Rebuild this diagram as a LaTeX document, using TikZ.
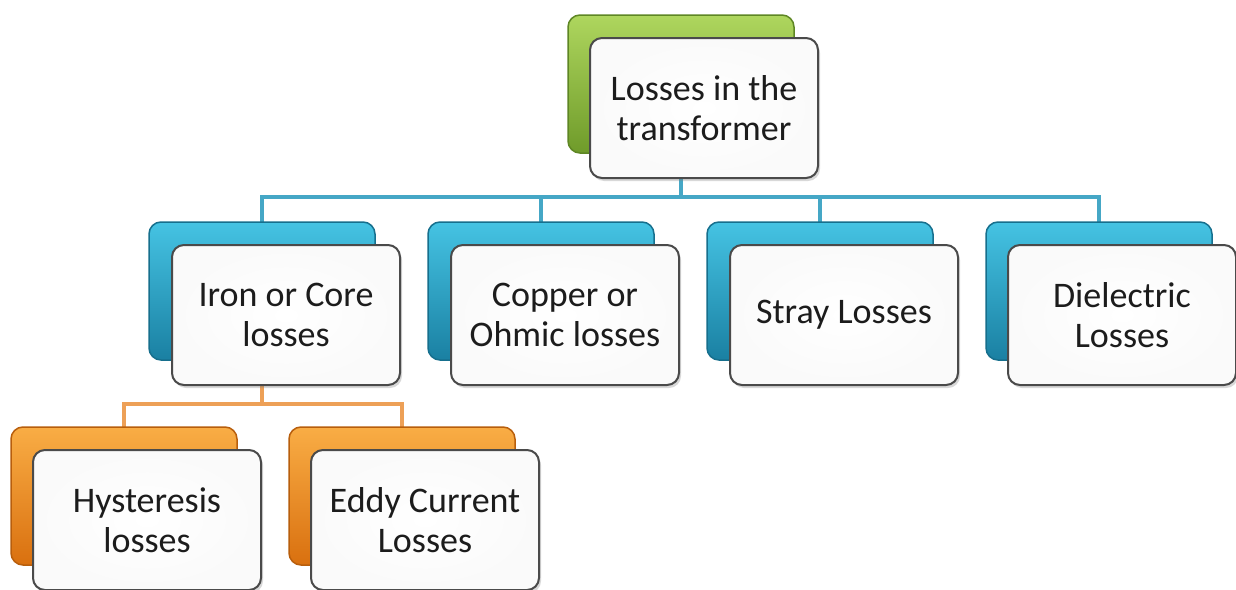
\documentclass[tikz,border=0pt]{standalone}
\usepackage{fontspec}
\setmainfont{Carlito}
\usetikzlibrary{shadows}
\pgfdeclarelayer{background}
\pgfsetlayers{background,main}
\definecolor{gTop}{HTML}{AED65E}
\definecolor{gBot}{HTML}{6F9B2A}
\definecolor{gEdge}{HTML}{5E8624}
\definecolor{bTop}{HTML}{45C3E3}
\definecolor{bBot}{HTML}{1A80A2}
\definecolor{bEdge}{HTML}{166F8D}
\definecolor{oTop}{HTML}{F9AD45}
\definecolor{oBot}{HTML}{D9700F}
\definecolor{oEdge}{HTML}{B85E0C}
\definecolor{bLine}{HTML}{45A7C6}
\definecolor{oLine}{HTML}{EDA057}
\definecolor{fEdge}{HTML}{4A4A4A}
\definecolor{txt}{HTML}{1C1C1C}
\tikzset{
  backbox/.style={rounded corners=12pt, minimum width=226pt, minimum height=138pt, inner sep=0pt, line width=1.5pt},
  greenbox/.style={backbox, draw=gEdge, top color=gTop, bottom color=gBot},
  bluebox/.style={backbox, draw=bEdge, top color=bTop, bottom color=bBot},
  orangebox/.style={backbox, draw=oEdge, top color=oTop, bottom color=oBot},
  frontbox/.style={rounded corners=12pt, minimum width=228pt, minimum height=140pt, inner sep=0pt,
    draw=fEdge, line width=2pt, inner color=white, outer color=black!2,
    drop shadow={opacity=0.3, shadow xshift=2pt, shadow yshift=-3pt},
    align=center, text=txt, font=\fontsize{36}{40}\selectfont},
  bline/.style={draw=bLine, line width=4.5pt},
  oline/.style={draw=oLine, line width=4pt}
}
\begin{document}
\begin{tikzpicture}[x=1pt,y=-1pt]
\useasboundingbox (0,0) rectangle (1236,589);
% top
\node[greenbox] (topb) at (681,84) {};
\node[frontbox] (topf) at (704,108) {Losses in the\\transformer};
% blue row
\node[bluebox] (b1) at (262,291) {};
\node[frontbox] (f1) at (286,315) {Iron or Core\\losses};
\node[bluebox] (b2) at (541,291) {};
\node[frontbox] (f2) at (565,315) {Copper or\\Ohmic losses};
\node[bluebox] (b3) at (820,291) {};
\node[frontbox] (f3) at (844,315) {Stray Losses};
\node[bluebox] (b4) at (1099,291) {};
\node[frontbox] (f4) at (1122,315) {Dielectric\\Losses};
% orange row
\node[orangebox] (o1) at (124,496) {};
\node[frontbox] (g1) at (147,520) {Hysteresis\\losses};
\node[orangebox] (o2) at (402,496) {};
\node[frontbox] (g2) at (425,520) {Eddy Current\\Losses};
\coordinate (bus) at (0,197);
\coordinate (obus) at (0,404);
\begin{pgfonlayer}{background}
\fill[white] (0,0) rectangle (1236,589);
\draw[bline] (topb.center) -- (topb.center |- bus) -| (b1.center);
\draw[bline] (topb.center) -- (topb.center |- bus) -| (b2.center);
\draw[bline] (topb.center) -- (topb.center |- bus) -| (b3.center);
\draw[bline] (topb.center) -- (topb.center |- bus) -| (b4.center);
\draw[oline] (b1.center) -- (b1.center |- obus) -| (o1.center);
\draw[oline] (b1.center) -- (b1.center |- obus) -| (o2.center);
\end{pgfonlayer}
\end{tikzpicture}
\end{document}
